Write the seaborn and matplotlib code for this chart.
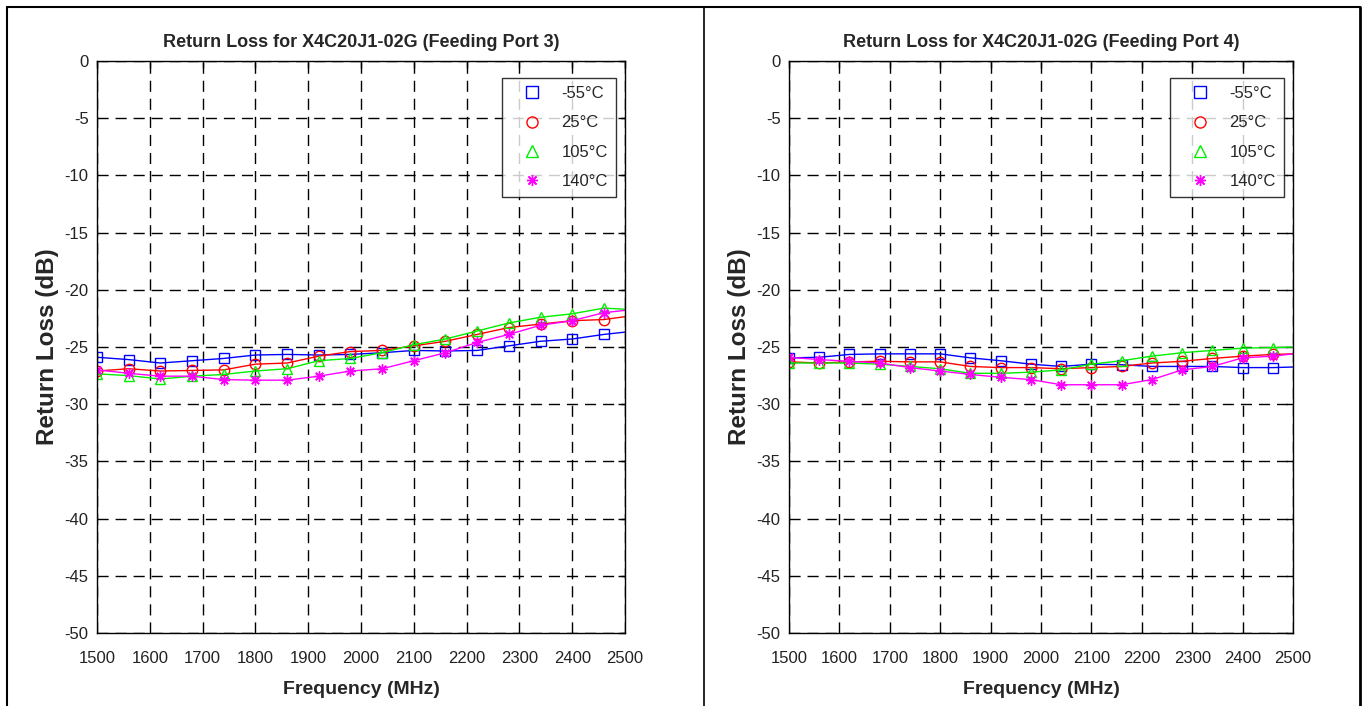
import numpy as np
import matplotlib
matplotlib.use('Agg')
import matplotlib.pyplot as plt
from matplotlib.lines import Line2D
import seaborn as sns

# frequencias: marcadores a cada 60 MHz, linha termina em 2500
freq = [1500, 1560, 1620, 1680, 1740, 1800, 1860, 1920, 1980, 2040,
        2100, 2160, 2220, 2280, 2340, 2400, 2460, 2500]

temps = ['-55°C', '25°C', '105°C', '140°C']

# Porta 3
p3_m55 = [-25.9, -26.1, -26.4, -26.2, -26.0, -25.7, -25.65, -25.7, -25.65, -25.5,
          -25.3, -25.35, -25.3, -24.9, -24.5, -24.3, -23.9, -23.7]
p3_25 = [-27.1, -26.9, -27.1, -27.05, -27.0, -26.5, -26.4, -25.8, -25.4, -25.3,
         -24.9, -24.5, -23.9, -23.3, -23.0, -22.7, -22.6, -22.35]
p3_105 = [-27.35, -27.5, -27.8, -27.55, -27.4, -27.1, -26.9, -26.2, -26.0, -25.5,
          -24.8, -24.3, -23.6, -22.9, -22.4, -22.1, -21.6, -21.7]
p3_140 = [-27.0, -27.3, -27.55, -27.55, -27.85, -27.9, -27.9, -27.55, -27.1, -26.9,
          -26.2, -25.5, -24.6, -23.9, -23.1, -22.7, -22.0, -21.8]

# Porta 4
p4_m55 = [-25.95, -25.9, -25.65, -25.6, -25.6, -25.6, -25.95, -26.2, -26.5, -26.7,
          -26.5, -26.55, -26.7, -26.7, -26.7, -26.8, -26.8, -26.75]
p4_25 = [-26.3, -26.4, -26.3, -26.25, -26.3, -26.3, -26.7, -26.8, -26.8, -26.9,
         -26.8, -26.7, -26.4, -26.25, -26.0, -25.8, -25.65, -25.6]
p4_105 = [-26.4, -26.4, -26.4, -26.5, -26.7, -26.9, -27.3, -27.3, -27.2, -27.0,
          -26.5, -26.2, -25.8, -25.5, -25.3, -25.1, -25.05, -25.0]
p4_140 = [-25.9, -26.1, -26.25, -26.4, -26.8, -27.1, -27.4, -27.65, -27.85, -28.3,
          -28.3, -28.3, -27.85, -27.0, -26.7, -25.95, -25.8, -25.6]

cores = ['#0000ff', '#ff0000', '#00ee00', '#ff00ff']
marcadores = ['s', 'o', '^', (8, 2, 0)]

sns.set_style('white')
plt.rcParams['font.family'] = ['Liberation Sans', 'DejaVu Sans']
plt.rcParams['axes.unicode_minus'] = False

fig = plt.figure(figsize=(13.7, 7.06), dpi=100)

paineis = [
    (3, [p3_m55, p3_25, p3_105, p3_140], [97, 528]),
    (4, [p4_m55, p4_25, p4_105, p4_140], [789, 504]),
]

for porta, series, (x0, w) in paineis:
    ax = fig.add_axes([x0 / 1370, 1 - 633 / 706, w / 1370, (633 - 61) / 706])
    for vals, cor, mk in zip(series, cores, marcadores):
        sns.lineplot(x=freq, y=vals, ax=ax, color=cor, lw=1.0, marker=mk,
                     markevery=list(range(len(freq) - 1)), markersize=7.5,
                     markerfacecolor='none', markeredgecolor=cor, markeredgewidth=1.0,
                     errorbar=None)
    ax.set_xlim(1500, 2500)
    ax.set_ylim(-50, 0)
    ax.set_xticks(range(1500, 2501, 100))
    ax.set_yticks(range(-50, 1, 5))
    ax.grid(True, color='black', linestyle=(0, (8, 5)), linewidth=1.0)
    ax.tick_params(direction='in', top=True, right=True, length=5, width=1,
                   labelsize=12, colors='black', labelcolor='#222222')
    ax.tick_params(axis='x', pad=13)
    ax.tick_params(axis='y', pad=6)
    for s in ax.spines.values():
        s.set_color('black')
        s.set_linewidth(1.0)
    ax.set_title(f'Return Loss for X4C20J1-02G (Feeding Port {porta})',
                 fontsize=13, fontweight='bold', pad=10)
    ax.set_xlabel('Frequency (MHz)', fontsize=14, fontweight='bold', labelpad=11)
    ax.set_ylabel('Return Loss (dB)', fontsize=17.5, fontweight='bold', labelpad=4)
    handles = [Line2D([], [], linestyle='none', marker=mk, markersize=8,
                      markerfacecolor='none', markeredgecolor=cor, markeredgewidth=1.0)
               for cor, mk in zip(cores, marcadores)]
    leg = ax.legend(handles, temps, loc='upper right',
                    bbox_to_anchor=(1 - 9 / w, 1 - 17 / 572), borderaxespad=0,
                    fontsize=12, frameon=True, fancybox=False, handletextpad=0.45,
                    labelspacing=0.85, borderpad=0.5, handlelength=2.6)
    leg.get_frame().set_edgecolor('black')
    leg.get_frame().set_linewidth(1.0)

# moldura da tabela
for xs, ys, lw in [([7, 1360], [7, 7], 1.5), ([7, 7], [7, 706], 1.5),
                   ([704, 704], [7, 706], 1.2), ([1360, 1360], [7, 706], 2.0)]:
    fig.add_artist(Line2D([x / 1370 for x in xs], [1 - y / 706 for y in ys],
                          color='black', lw=lw))

plt.savefig('out.png', dpi=100)
